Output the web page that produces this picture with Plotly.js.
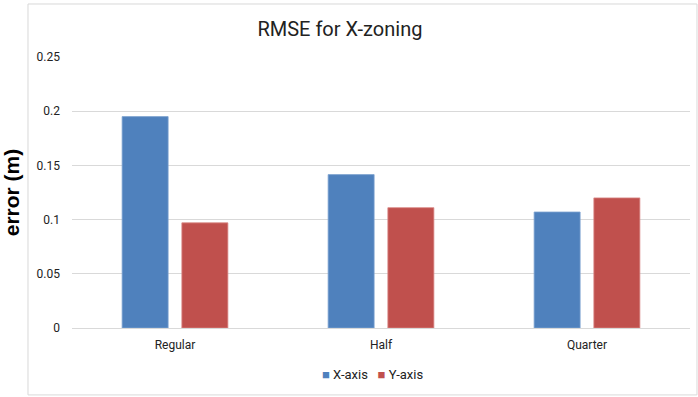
<!DOCTYPE html>
<html>
<head>
<meta charset="utf-8">
<script src="https://cdn.plot.ly/plotly-3.0.1.min.js"></script>
<style>html,body{margin:0;padding:0;background:#fff;}#chart{width:698px;height:397px;}</style>
</head>
<body>
<div id="chart"></div>
<script>
const categories = ["Regular", "Half", "Quarter"];
const seriesNames = ["X-axis", "Y-axis"];
const xAxisErr = [0.195, 0.1415, 0.107];
const yAxisErr = [0.097, 0.111, 0.120];
const yTicks = [0, 0.05, 0.1, 0.15, 0.2, 0.25];
const yTickText = ["0", "0.05", "0.1", "0.15", "0.2", "0.25"];
const colors = ["#4F81BD", "#C0504D"];

const font = "Liberation Sans Narrow, Roboto, Arial, sans-serif";

const traces = [
  {type: "bar", name: seriesNames[0], x: categories, y: xAxisErr, marker: {color: colors[0], line: {color: "#7FA3D1", width: 0.8}}},
  {type: "bar", name: seriesNames[1], x: categories, y: yAxisErr, marker: {color: colors[1], line: {color: "#D98784", width: 0.8}}}
];

const legendText = seriesNames.map((n, i) => '<span style="color:' + colors[i] + '">■</span>&nbsp;' + n).join("&nbsp;&nbsp;&nbsp;");

const layout = {
  width: 698, height: 397,
  margin: {l: 72, r: 8, t: 57, b: 69},
  paper_bgcolor: "#fff", plot_bgcolor: "#fff",
  barmode: "group", bargap: 0.42, bargroupgap: 0.23,
  title: {text: "RMSE for X-zoning", font: {family: font, size: 20, color: "#222"}, x: 0.487, xanchor: "center", y: 0.927, yanchor: "middle"},
  xaxis: {tickfont: {family: font, size: 12, color: "#222"}, showline: false, ticks: "", showgrid: false, ticklabelstandoff: 8},
  yaxis: {range: [0, 0.25], tickvals: yTicks, ticktext: yTickText, tickfont: {family: font, size: 12, color: "#222"},
    gridcolor: "#D9D9D9", gridwidth: 1, zeroline: true, zerolinecolor: "#D9D9D9", zerolinewidth: 1, showline: false, ticks: "",
    ticklabelstandoff: 11,
    title: {text: "error (m)", font: {family: "Liberation Sans, Arial, sans-serif", size: 21, color: "#000", weight: "bold"}, standoff: 16}},
  showlegend: false,
  annotations: [{xref: "paper", yref: "paper", x: 0.487, y: -0.17, xanchor: "center", yanchor: "middle", showarrow: false,
    text: legendText, font: {family: font, size: 13, color: "#222"}}],
  shapes: [{type: "rect", xref: "paper", yref: "paper", x0: -0.0712, x1: 1.0113, y0: -0.247, y1: 1.1956, line: {color: "#D9D9D9", width: 1}, fillcolor: "rgba(0,0,0,0)", layer: "below"}]
};

Plotly.newPlot("chart", traces, layout, {displayModeBar: false, staticPlot: true});
</script>
</body>
</html>
